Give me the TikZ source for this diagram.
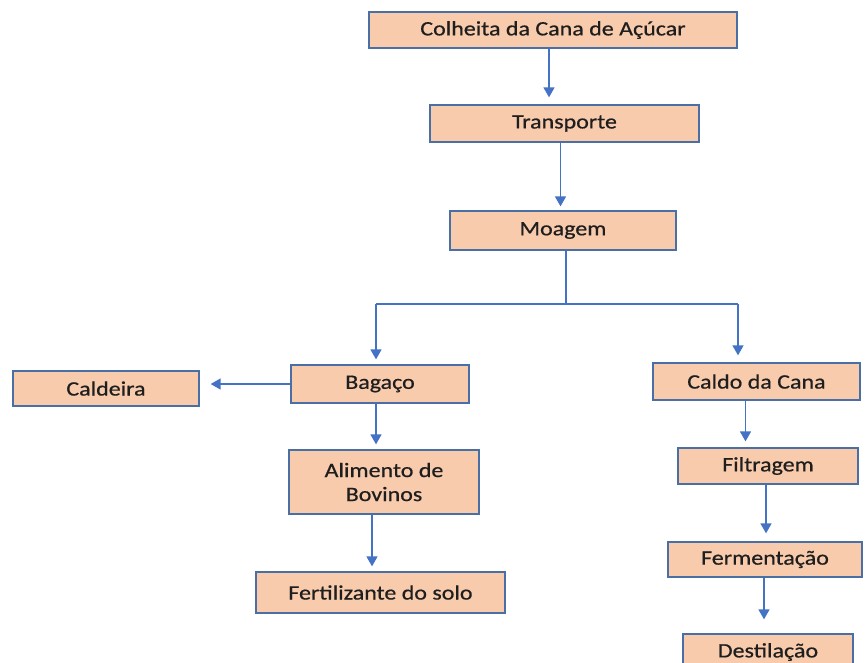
\documentclass[tikz,border=0pt]{standalone}
\usepackage{fontspec}
\setmainfont{Carlito}[FakeStretch=1.17,FakeBold=0.6]
\usetikzlibrary{arrows.meta}
\definecolor{boxfill}{HTML}{F8CBAD}
\definecolor{boxline}{HTML}{4A6FA5}
\definecolor{arrcol}{HTML}{4472C4}
\definecolor{txt}{HTML}{1E1E1E}
\tikzset{
  box/.style={draw=boxline, line width=1.3pt, fill=boxfill, text=txt, inner sep=0pt,
    font=\fontsize{20.5}{24}\selectfont, align=center},
  link/.style={draw=arrcol, line width=1.5pt},
  arr/.style={link, -{Triangle[width=11pt,length=10pt]}},
}
\begin{document}
\begin{tikzpicture}[x=1pt,y=-1pt]
\useasboundingbox (0,0) rectangle (867,662);
\node[box, minimum width=368pt, minimum height=36pt] (c1) at (553,30) {Colheita da Cana de Açúcar};
\node[box, minimum width=269pt, minimum height=37pt] (c2) at (564.5,123.5) {Transporte};
\node[box, minimum width=226pt, minimum height=39pt] (c3) at (563,230.5) {Moagem};
\node[box, minimum width=178pt, minimum height=38pt] (bag) at (380,384) {Bagaço};
\node[box, minimum width=186pt, minimum height=35pt] (cal) at (106,388.5) {Caldeira};
\node[box, minimum width=207pt, minimum height=37pt] (caldo) at (756.5,381.5) {Caldo da Cana};
\node[box, minimum width=190pt, minimum height=64pt] (ali) at (384,482) {Alimento de\\Bovinos};
\node[box, minimum width=180pt, minimum height=36pt] (fil) at (768,466) {Filtragem};
\node[box, minimum width=249pt, minimum height=41pt] (fert) at (380.5,592.5) {Fertilizante do solo};
\node[box, minimum width=194pt, minimum height=35pt] (fer) at (765,559.5) {Fermentação};
\node[box, minimum width=170pt, minimum height=36pt] (des) at (768,652) {Destilação};

\coordinate (j) at (566,304);
\coordinate (jl) at (376,304);
\coordinate (jr) at (738,304);

\draw[arr, shorten >=7pt] ([xshift=-4pt]c1.south) -- ([xshift=-4pt]c1.south |- c2.north);
\draw[arr, shorten >=4pt] ([xshift=-4pt]c2.south) -- ([xshift=-4pt]c2.south |- c3.north);
\draw[link] (c3.south -| j) -- (j);
\draw[link] (jl) -- (jr);
\draw[arr, shorten >=5pt] (jl) -- (jl |- bag.north);
\draw[arr, shorten >=7pt] (jr) -- (jr |- caldo.north);
\draw[arr, shorten >=11pt] (bag.west) -- (bag.west -| cal.east);
\draw[arr, shorten >=5pt] ([xshift=-4pt]bag.south) -- ([xshift=-4pt]bag.south |- ali.north);
\draw[arr, shorten >=5pt] ([xshift=-12pt]ali.south) -- ([xshift=-12pt]ali.south |- fert.north);
\draw[arr, shorten >=6pt] ([xshift=-11pt]caldo.south) -- ([xshift=-11pt]caldo.south |- fil.north);
\draw[arr, shorten >=8pt] ([xshift=-2pt]fil.south) -- ([xshift=-2pt]fil.south |- fer.north);
\draw[arr, shorten >=14pt] ([xshift=-1pt]fer.south) -- ([xshift=-1pt]fer.south |- des.north);
\end{tikzpicture}
\end{document}
